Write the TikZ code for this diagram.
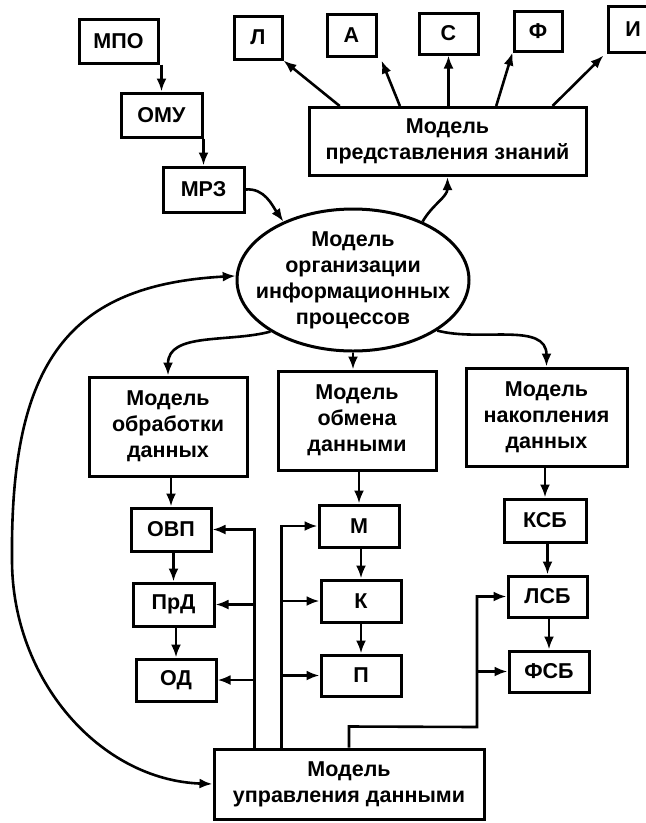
\documentclass[tikz,border=0pt]{standalone}
\usepackage{fontspec}
\setmainfont{Liberation Sans}
\usetikzlibrary{arrows.meta,shapes.geometric,calc}
\begin{document}
\begin{tikzpicture}[x=1pt,y=-1pt,
  txt/.style={font=\fontsize{21.5}{26}\selectfont\bfseries, align=center},
  box/.style={draw, line width=3pt, inner sep=0pt, txt},
  conn/.style={line width=2.6pt, -{Latex[length=13pt,width=10pt]}},
  wire/.style={line width=2.6pt}]
\clip (0,0) rectangle (646,823);
% top chain
\node[box, minimum width=79pt, minimum height=44pt] (mpo) at (118.5,41) {МПО};
\node[box, minimum width=81pt, minimum height=44pt] (omu) at (161.5,115) {ОМУ};
\node[box, minimum width=81pt, minimum height=45pt] (mrz) at (203.5,189.5) {МРЗ};
% knowledge
\node[box, minimum width=48pt, minimum height=43pt] (kl) at (258,37.5) {Л};
\node[box, minimum width=49pt, minimum height=42pt] (ka) at (351.5,35) {А};
\node[box, minimum width=59pt, minimum height=41pt] (kc) at (448.5,33.5) {С};
\node[box, minimum width=48pt, minimum height=40pt] (kf) at (538,31) {Ф};
\node[box, minimum width=50pt, minimum height=46pt] (ki) at (633,29) {И};
\node[box, minimum width=277pt, minimum height=68pt] (know) at (447.5,141.5) {Модель\\представления знаний};
% ellipse
\node[draw, ellipse, line width=3pt, minimum width=232pt, minimum height=142pt, inner sep=0pt] (ell) at (353,280) {};
\node[txt, inner sep=0pt] (ellt) at (ell.center) {Модель\\организации\\информационных\\процессов};
% middle models
\node[box, minimum width=158pt, minimum height=99pt] (obr) at (168,426.5) {Модель\\обработки\\данных};
\node[box, minimum width=158pt, minimum height=99pt] (obm) at (357,420.5) {Модель\\обмена\\данными};
\node[box, minimum width=161pt, minimum height=98pt] (nak) at (546.5,417) {Модель\\накопления\\данных};
% lower boxes
\node[box, minimum width=80pt, minimum height=43pt] (ovp) at (171,529.5) {ОВП};
\node[box, minimum width=81pt, minimum height=43pt] (prd) at (173.5,604.5) {ПрД};
\node[box, minimum width=80pt, minimum height=42pt] (od) at (176,680) {ОД};
\node[box, minimum width=80pt, minimum height=42pt] (m) at (359,526) {М};
\node[box, minimum width=80pt, minimum height=42pt] (k) at (361,601) {К};
\node[box, minimum width=80pt, minimum height=41pt] (p) at (361,675.5) {П};
\node[box, minimum width=82pt, minimum height=43pt] (ksb) at (545,520.5) {КСБ};
\node[box, minimum width=79pt, minimum height=41pt] (lsb) at (547.5,596.5) {ЛСБ};
\node[box, minimum width=80pt, minimum height=41pt] (fsb) at (549,671.5) {ФСБ};
\node[box, minimum width=270pt, minimum height=70pt] (upr) at (349,784) {Модель\\управления данными};
% top chain arrows
\draw[conn] (omu.north |- mpo.south) -- (omu.north);
\draw[conn] (mrz.north |- omu.south) -- (mrz.north);
\draw[conn] (mrz.east) to[out=5, in=125] (ell.140);
% ellipse to knowledge
\draw[conn] (ell.40) to[out=60, in=-90] (know.south);
\draw[conn] ($(know.north west)!0.115!(know.north east)$) -- (kl.south east);
\draw[conn] ($(know.north west)!0.33!(know.north east)$) -- ($(ka.south east)+(4,3)$);
\draw[conn] (kc.south |- know.north) -- (kc.south);
\draw[conn] ($(know.north west)!0.674!(know.north east)$) -- (kf.south west);
\draw[conn] ($(know.north west)!0.875!(know.north east)$) -- ($(ki.south west)+(-3,2)$);
% ellipse to models
\draw[conn] (ell.212) to[out=195, in=90] (obr.north);
\draw[conn] (ell.south) -- (ell.south |- obm.north);
\draw[conn] (ell.329) to[out=-15, in=90] (nak.north);
% columns
\draw[conn] (ovp.north |- obr.south) -- (ovp.north);
\draw[conn] (prd.north |- ovp.south) -- (prd.north);
\draw[conn] (od.north |- prd.south) -- (od.north);
\draw[conn] (m.north |- obm.south) -- (m.north);
\draw[conn] (k.north |- m.south) -- (k.north);
\draw[conn] (p.north |- k.south) -- (p.north);
\draw[conn] (ksb.north |- nak.south) -- (ksb.north);
\draw[conn] (lsb.north |- ksb.south) -- (lsb.north);
\draw[conn] (fsb.north |- lsb.south) -- (fsb.north);
% control buses
\coordinate (b1) at ($(upr.north west)+(42,0)$);
\coordinate (b2) at ($(upr.north west)+(69,0)$);
\coordinate (b3) at ($(upr.north)+(0,-21)$);
\coordinate (b3r) at (477,727);
\draw[conn] (b1) |- (ovp.east);
\draw[conn] (b1 |- prd.east) -- (prd.east);
\draw[conn] (b1 |- od.east) -- (od.east);
\draw[conn] (b2) |- (m.west);
\draw[conn] (b2 |- k.west) -- (k.west);
\draw[conn] (b2 |- p.west) -- (p.west);
\draw[conn] (upr.north) -- (b3) -- (b3r) |- (lsb.west);
\draw[conn] (b3r |- fsb.west) -- (fsb.west);
% big feedback curve
\coordinate (lc) at (12,560);
\draw[wire, {Latex[length=13pt,width=10pt]}-{Latex[length=13pt,width=10pt]}]
  (ell.178) .. controls (70,285) and (10,360) .. (lc)
  .. controls (12,680) and (100,780) .. (upr.west);
\end{tikzpicture}
\end{document}
